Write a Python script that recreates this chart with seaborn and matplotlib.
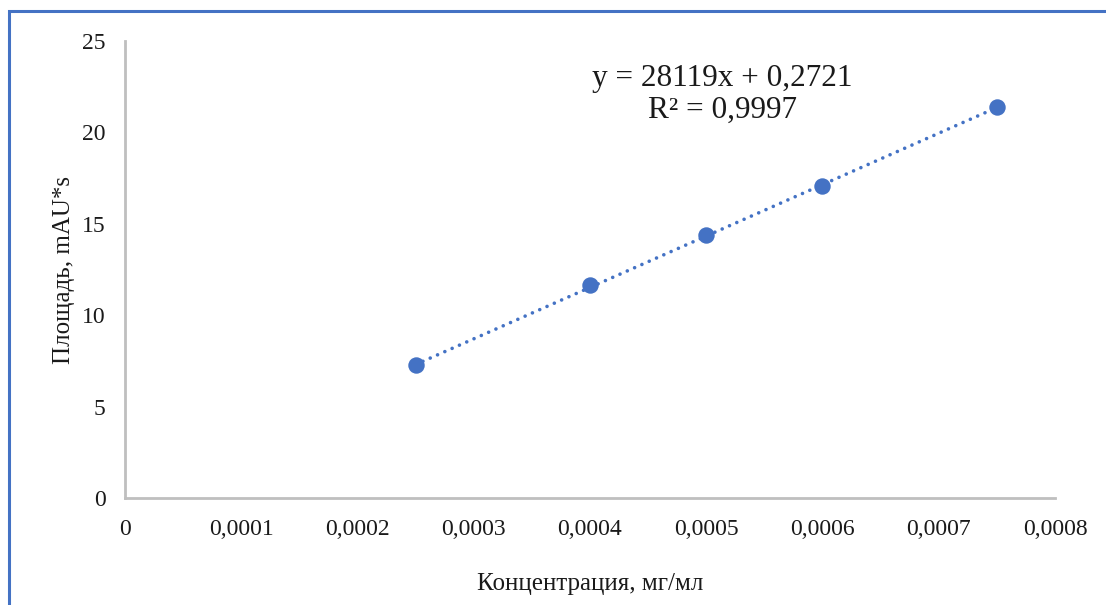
import matplotlib
matplotlib.use("Agg")
import matplotlib.pyplot as plt
from matplotlib.patches import Rectangle
import numpy as np
import pandas as pd
import seaborn as sns

# Calibration data
concentration = [0.00025, 0.0004, 0.0005, 0.0006, 0.00075]
peak_area = [7.30, 11.65, 14.40, 17.05, 21.40]

# Linear trendline parameters
slope = 28119
intercept = 0.2721
r_squared = "0,9997"

x_ticks = [0, 0.0001, 0.0002, 0.0003, 0.0004, 0.0005, 0.0006, 0.0007, 0.0008]
x_tick_labels = ["0", "0,0001", "0,0002", "0,0003", "0,0004", "0,0005", "0,0006", "0,0007", "0,0008"]
y_ticks = [0, 5, 10, 15, 20, 25]
y_tick_labels = ["0", "5", "10", "15", "20", "25"]

x_label = "Концентрация, мг/мл"
y_label = "Площадь, mAU*s"

blue = "#4472C4"
axis_gray = "#BFBFBF"
text_color = "#1a1a1a"

sns.set_theme(style="white")
plt.rcParams["font.family"] = ["Liberation Serif", "DejaVu Serif"]

fig = plt.figure(figsize=(11.06, 6.05), dpi=100)
ax = fig.add_axes([125 / 1106, 1 - 498 / 605, (1055 - 125) / 1106, (498 - 41) / 605])

df = pd.DataFrame({"c": concentration, "a": peak_area})

# Trendline over the span of the measurements
trend_x = np.array([min(concentration), max(concentration)])
trend = pd.DataFrame({"c": trend_x, "a": slope * trend_x + intercept})
sns.lineplot(data=trend, x="c", y="a", ax=ax, color=blue, linewidth=2.6,
             dashes=False, zorder=2)
line = ax.get_lines()[-1]
line.set_dashes((0.01, 2.2))
line.set_dash_capstyle("round")

sns.scatterplot(data=df, x="c", y="a", ax=ax, color=blue, s=140,
                edgecolor=blue, linewidth=0, zorder=3)

ax.set_xlim(0, 0.0008)
ax.set_ylim(0, 25)
ax.set_xticks(x_ticks)
ax.set_xticklabels(x_tick_labels)
ax.set_yticks(y_ticks)
ax.set_yticklabels(y_tick_labels)
ax.tick_params(axis="both", length=0, labelsize=17, colors=text_color)
ax.tick_params(axis="x", pad=15)
ax.tick_params(axis="y", pad=14)

for side in ["top", "right"]:
    ax.spines[side].set_visible(False)
for side in ["left", "bottom"]:
    ax.spines[side].set_color(axis_gray)
    ax.spines[side].set_linewidth(2)
ax.grid(False)

ax.set_xlabel(x_label, fontsize=18, color=text_color, labelpad=24)
ax.set_ylabel(y_label, fontsize=18, color=text_color, labelpad=5)

ax.text(0.000514, 22.95, f"y = {slope}x + {str(intercept).replace('.', ',')}",
        fontsize=22.5, color=text_color, ha="center", va="center")
ax.text(0.000514, 21.2, f"R² = {r_squared}",
        fontsize=22.5, color=text_color, ha="center", va="center")

# Chart frame
fig.patches.append(Rectangle((9 / 1106, -0.1), 1.2, 1 - 11 / 605 + 0.1,
                             transform=fig.transFigure, fill=False,
                             edgecolor=blue, linewidth=2.2))

fig.savefig("out.png", dpi=100, facecolor="white")
